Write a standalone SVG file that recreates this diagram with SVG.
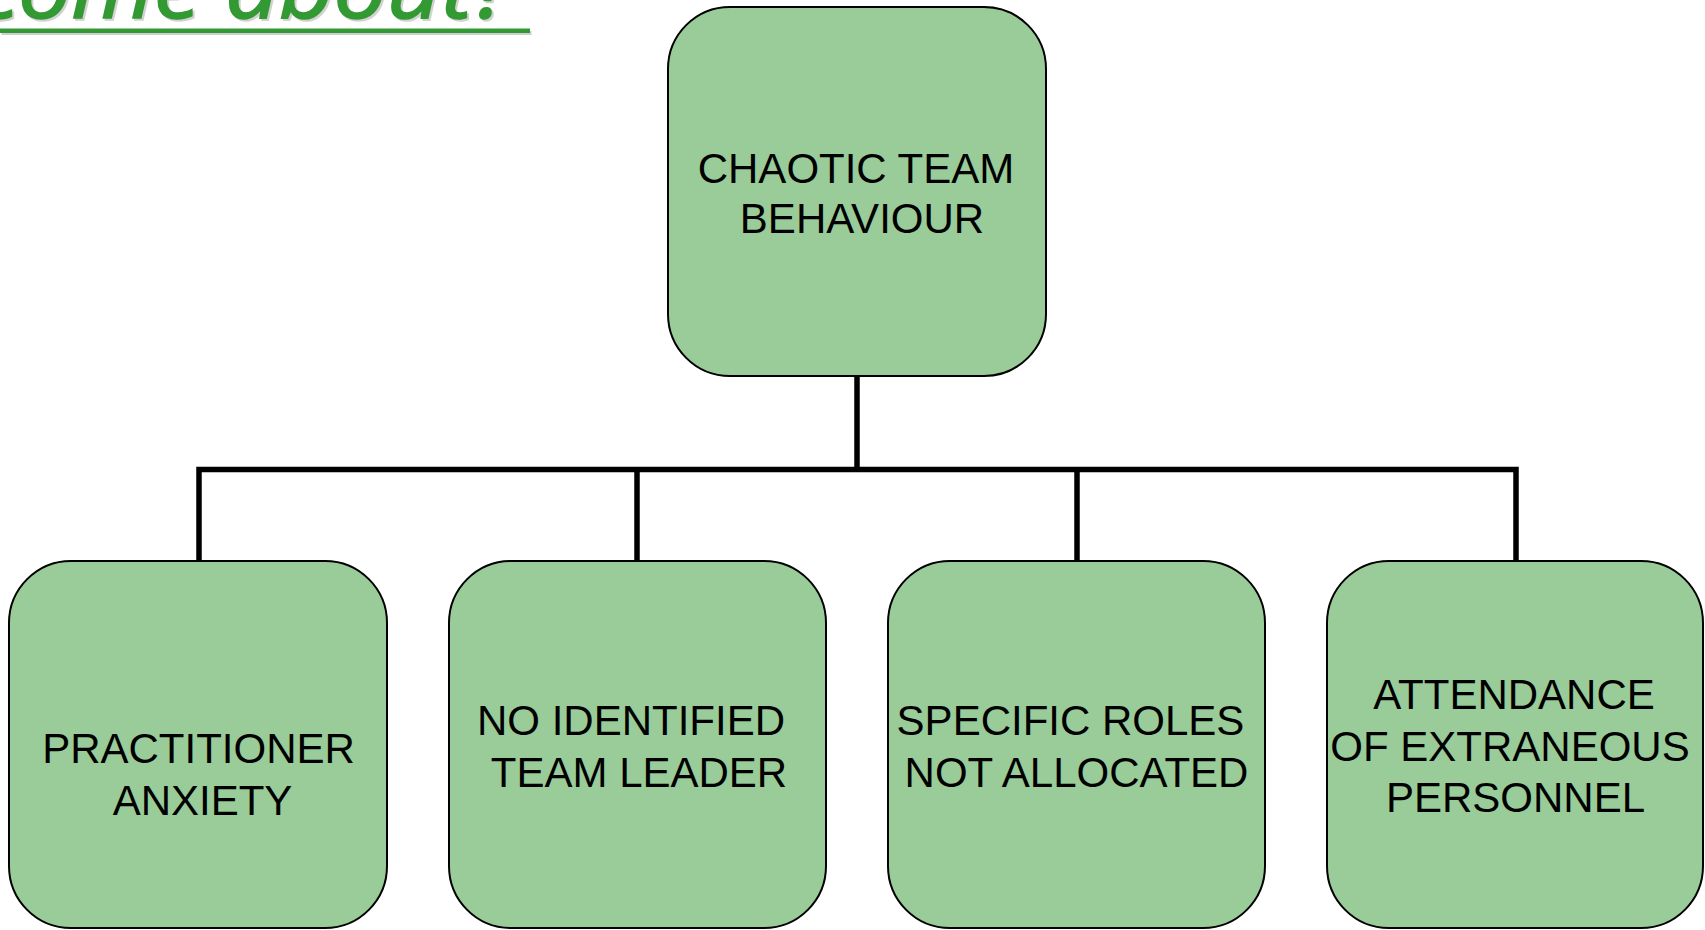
<svg xmlns="http://www.w3.org/2000/svg" width="1705" height="930" viewBox="0 0 1705 930">
<style>
.box{fill:#99cc99;stroke:#000;stroke-width:2}
.lbl{font-family:"Liberation Sans",Arial,sans-serif;font-size:42px;fill:#000;text-anchor:middle}
.conn{fill:none;stroke:#000;stroke-width:5.5;stroke-linecap:butt;stroke-linejoin:miter}
.title{font-family:"Open Sans","Noto Sans",sans-serif;font-style:italic;font-size:88px;fill:#339933;stroke:#339933;stroke-width:1.6}
</style>
<rect width="1705" height="930" fill="#fff"/>
<g id="title">
<text class="title" x="-23" y="19.5" textLength="538" lengthAdjust="spacingAndGlyphs" style="fill:#d2d2d2;stroke:#d2d2d2">come about?</text>
<text class="title" x="-25" y="17.5" textLength="538" lengthAdjust="spacingAndGlyphs">come about?</text>
<rect x="1.5" y="31" width="530" height="4" fill="#cfcfcf"/>
<rect x="0" y="28.5" width="530" height="4.5" fill="#339933"/>
</g>
<g id="connectors">
<path class="conn" d="M857 376 V469.5"/>
<path class="conn" d="M199 561 V469.5 H1516 V561"/>
<path class="conn" d="M637 469.5 V561"/>
<path class="conn" d="M1077 469.5 V561"/>
</g>
<g id="node-top">
<rect class="box" x="668" y="7" width="378" height="369" rx="62" ry="62"/>
<text class="lbl" x="856" y="183">CHAOTIC TEAM</text>
<text class="lbl" x="862" y="233">BEHAVIOUR</text>
</g>
<g id="node-anxiety">
<rect class="box" x="9" y="561" width="378" height="367" rx="62" ry="62"/>
<text class="lbl" x="198.5" y="763">PRACTITIONER</text>
<text class="lbl" x="202.5" y="815">ANXIETY</text>
</g>
<g id="node-leader">
<rect class="box" x="449" y="561" width="377" height="367" rx="62" ry="62"/>
<text class="lbl" x="631" y="735">NO IDENTIFIED</text>
<text class="lbl" x="639" y="787">TEAM LEADER</text>
</g>
<g id="node-roles">
<rect class="box" x="888" y="561" width="377" height="367" rx="62" ry="62"/>
<text class="lbl" x="1070.5" y="735">SPECIFIC ROLES</text>
<text class="lbl" x="1076.5" y="787">NOT ALLOCATED</text>
</g>
<g id="node-personnel">
<rect class="box" x="1327" y="561" width="376" height="367" rx="62" ry="62"/>
<text class="lbl" x="1514" y="709">ATTENDANCE</text>
<text class="lbl" x="1510" y="761">OF EXTRANEOUS</text>
<text class="lbl" x="1515.5" y="812">PERSONNEL</text>
</g>
</svg>
